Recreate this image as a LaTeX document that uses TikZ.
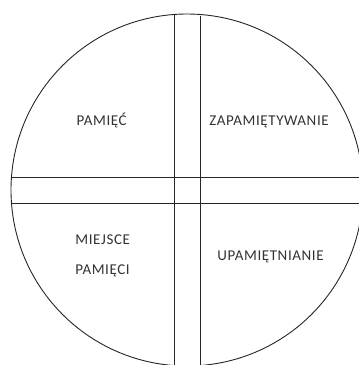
\documentclass[tikz,border=0pt]{standalone}
\usepackage{fontspec}
\setmainfont[LetterSpace=4]{Carlito}
\begin{document}
\begin{tikzpicture}[x=1bp,y=-1bp,
  line/.style={draw=black!85, line width=0.9bp},
  lbl/.style={anchor=base, text=black!80, inner sep=0pt, font=\fontsize{15bp}{18bp}\selectfont}]
\useasboundingbox (0,0) rectangle (359,365);
\begin{scope}
\clip (0,0) rectangle (359,365);
\coordinate (c) at (187,190);
\draw[line] (c) circle[radius=176];
% vertical bars
\draw[line] (174,14.5) -- (174,366);
\draw[line] (200,15.5) -- (200,366);
% horizontal bars
\draw[line] (11.9,177.3) -- (360,177.3);
\draw[line] (11.9,203.3) -- (360,203.3);
\end{scope}
\node[lbl] (pamiec) at (101.7,125.3) {PAMIĘĆ};
\node[lbl] (zap) at (269,125) {ZAPAMIĘTYWANIE};
\node[lbl] (miejsce) at (102.7,244.3) {MIEJSCE};
\node[lbl] (pamieci) at (102.5,274.3) {PAMIĘCI};
\node[lbl] (upam) at (270.5,260) {UPAMIĘTNIANIE};
\end{tikzpicture}
\end{document}
